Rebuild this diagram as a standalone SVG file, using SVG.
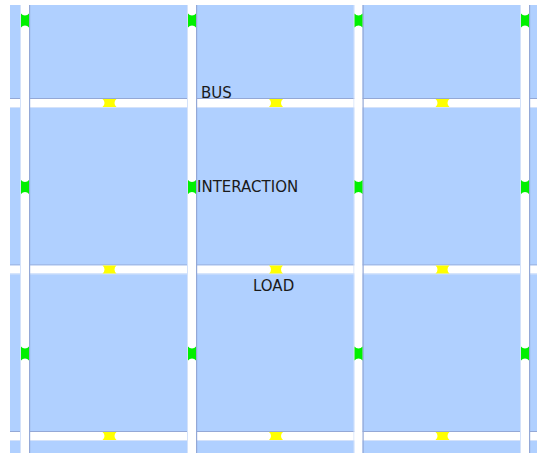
<svg xmlns="http://www.w3.org/2000/svg" width="537" height="453" viewBox="0 0 537 453">
<style>
.road{fill:#ffffff}
.dk{fill:#94a8d6}
.lt{fill:#d4e2fa}
.y{fill:#ffff00}
.g{fill:#00f000}
.lbl{font-family:"DejaVu Sans",sans-serif;font-size:15px;fill:#1a1a1a}
</style>
<defs>
<path id="ym" d="M-7,-4 L7,-4 A5 5 0 0 0 7,4 L-7,4 A5 5 0 0 0 -7,-4 Z"/>
<path id="gm" d="M-4,-7 A5 5 0 0 0 4,-7 L4,7 A5 5 0 0 0 -4,7 Z"/>
</defs>
<rect x="0" y="0" width="537" height="453" fill="#ffffff"/>
<rect id="area" x="10" y="5" width="527" height="448" fill="#b0d0ff"/>
<g id="hroads">
<rect class="dk" x="10" y="98" width="527" height="1"/>
<rect class="road" x="10" y="99" width="527" height="8"/>
<rect class="lt" x="10" y="107" width="527" height="1"/>
<rect class="dk" x="10" y="264.5" width="527" height="1"/>
<rect class="road" x="10" y="265.5" width="527" height="8"/>
<rect class="lt" x="10" y="273.5" width="527" height="1"/>
<rect class="dk" x="10" y="431" width="527" height="1"/>
<rect class="road" x="10" y="432" width="527" height="8"/>
<rect class="lt" x="10" y="440" width="527" height="1"/>
</g>
<g id="vroads">
<rect class="lt" x="20" y="5" width="1" height="448"/>
<rect class="road" x="21" y="5" width="8" height="448"/>
<rect class="dk" x="29" y="5" width="1.2" height="448"/>
<rect class="lt" x="187" y="5" width="1" height="448"/>
<rect class="road" x="188" y="5" width="8" height="448"/>
<rect class="dk" x="196" y="5" width="1.2" height="448"/>
<rect class="lt" x="353.5" y="5" width="1" height="448"/>
<rect class="road" x="354.5" y="5" width="8" height="448"/>
<rect class="dk" x="362.5" y="5" width="1.2" height="448"/>
<rect class="lt" x="520" y="5" width="1" height="448"/>
<rect class="road" x="521" y="5" width="8" height="448"/>
<rect class="dk" x="529" y="5" width="1.2" height="448"/>
</g>
<g id="yellow-markers" class="y">
<use href="#ym" x="109.5" y="103"/>
<use href="#ym" x="276" y="103"/>
<use href="#ym" x="442.5" y="103"/>
<use href="#ym" x="109.5" y="269.5"/>
<use href="#ym" x="276" y="269.5"/>
<use href="#ym" x="442.5" y="269.5"/>
<use href="#ym" x="109.5" y="436"/>
<use href="#ym" x="276" y="436"/>
<use href="#ym" x="442.5" y="436"/>
</g>
<g id="green-markers" class="g">
<use href="#gm" x="25" y="20.5"/>
<use href="#gm" x="192" y="20.5"/>
<use href="#gm" x="358.5" y="20.5"/>
<use href="#gm" x="525" y="20.5"/>
<use href="#gm" x="25" y="187"/>
<use href="#gm" x="192" y="187"/>
<use href="#gm" x="358.5" y="187"/>
<use href="#gm" x="525" y="187"/>
<use href="#gm" x="25" y="353.5"/>
<use href="#gm" x="192" y="353.5"/>
<use href="#gm" x="358.5" y="353.5"/>
<use href="#gm" x="525" y="353.5"/>
</g>
<g id="labels">
<text id="bus" class="lbl" x="201" y="98">BUS</text>
<text id="interaction" class="lbl" x="197" y="192">INTERACTION</text>
<text id="load" class="lbl" x="253" y="291">LOAD</text>
</g>
</svg>
